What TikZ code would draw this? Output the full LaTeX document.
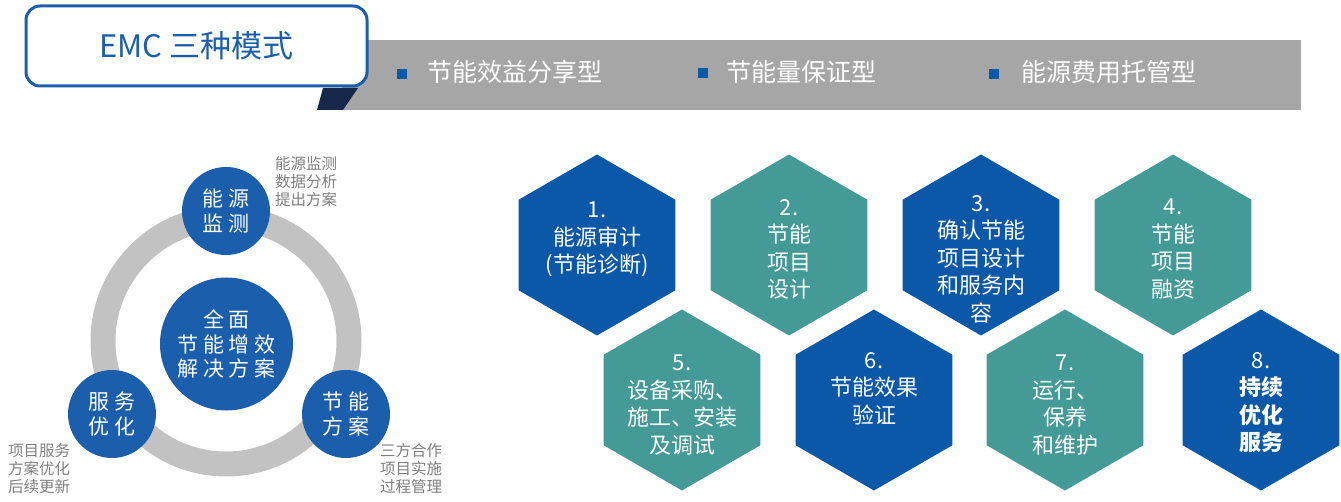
\documentclass[tikz,border=0pt]{standalone}
\usepackage{fontspec}
\setmainfont{Noto Sans CJK SC}
\usetikzlibrary{shapes.geometric}
\definecolor{emcblue}{HTML}{1B5EAB}
\definecolor{hexblue}{HTML}{0B57A8}
\definecolor{hexteal}{HTML}{439A97}
\definecolor{bargray}{HTML}{A6A6A6}
\definecolor{ringgray}{HTML}{C2C2C2}
\definecolor{notegray}{HTML}{7F7F7F}
\definecolor{foldnavy}{HTML}{17294A}

\begin{document}
\begin{tikzpicture}[x=1pt, y=-1pt, every node/.style={inner sep=0pt},
	hexa/.style={regular polygon, regular polygon sides=6, shape border rotate=30, minimum size=181pt},
	hextext/.style={anchor=north, align=center, text=white, font=\fontsize{22}{27.5}\selectfont},
	dot/.style={circle, fill=emcblue, text=white, align=center, font=\fontsize{21}{24.5}\selectfont},
	note/.style={anchor=north west, align=left, text=notegray, font=\fontsize{15.5}{18}\selectfont},
	bullet/.style={fill=hexblue, minimum size=10pt},
	bartext/.style={anchor=west, text=white, font=\fontsize{25}{28}\selectfont}]
	\useasboundingbox (0,0) rectangle (1341,502);
	\fill[bargray] (342,40) rectangle (1301,110);
	\fill[foldnavy] (317,110) -- (323,88) -- (358,88) -- (343,110) -- cycle;
	\node[draw=emcblue, line width=3pt, rounded corners=14pt, fill=white, minimum width=341pt, minimum height=80pt, text=emcblue, font=\fontsize{31}{34}\selectfont] (title) at (196.5,46) {EMC 三种模式};
	\node[bullet] (b1) at (402,74) {};
	\node[bartext] (m1) at (427,72) {节能效益分享型};
	\node[bullet] (b2) at (703,73) {};
	\node[bartext] (m2) at (726,72) {节能量保证型};
	\node[bullet] (b3) at (994,74) {};
	\node[bartext] (m3) at (1021,72) {能源费用托管型};
	\coordinate (hub) at (226,341);
	\draw[ringgray, line width=25pt] (hub) circle[radius=123pt];
	\node[dot, minimum size=133pt] (core) at (226.5,344) {全 面\\节 能 增 效\\解 决 方 案};
	\node[dot, minimum size=88pt] (monitor) at (226,211) {能 源\\监 测};
	\node[dot, minimum size=88pt] (service) at (112,414) {服 务\\优 化};
	\node[dot, minimum size=88pt] (plan) at (346,414) {节 能\\方 案};
	\node[note] (n1) at (275,156) {能源监测\\数据分析\\提出方案};
	\node[note] (n2) at (8,443) {项目服务\\方案优化\\后续更新};
	\node[note] (n3) at (380,443) {三方合作\\项目实施\\过程管理};
	\foreach \n/\x/\y/\c in {1/597/245/hexblue, 2/789/245/hexteal, 3/981/245/hexblue, 4/1173/245/hexteal,
		5/682/400/hexteal, 6/874/400/hexblue, 7/1065/400/hexteal, 8/1261/400/hexblue}
		\node[hexa, fill=\c] (h\n) at (\x,\y) {};
	\foreach \n/\s/\t in {1/43/{1.\\能源审计\\(节能诊断)}, 2/46/{2.\\节能\\项目\\设计},
		3/50/{3.\\确认节能\\项目设计\\和服务内\\容}, 4/46/{4.\\节能\\项目\\融资},
		5/45/{5.\\设备采购、\\施工、安装\\及调试}, 6/48/{6.\\节能效果\\验证},
		7/45/{7.\\运行、\\保养\\和维护}, 8/48/{8.\\\textbf{持续}\\\textbf{优化}\\\textbf{服务}}}
		\node[hextext] (t\n) at ([yshift=\s pt]h\n.center) {\t};
\end{tikzpicture}
\end{document}
